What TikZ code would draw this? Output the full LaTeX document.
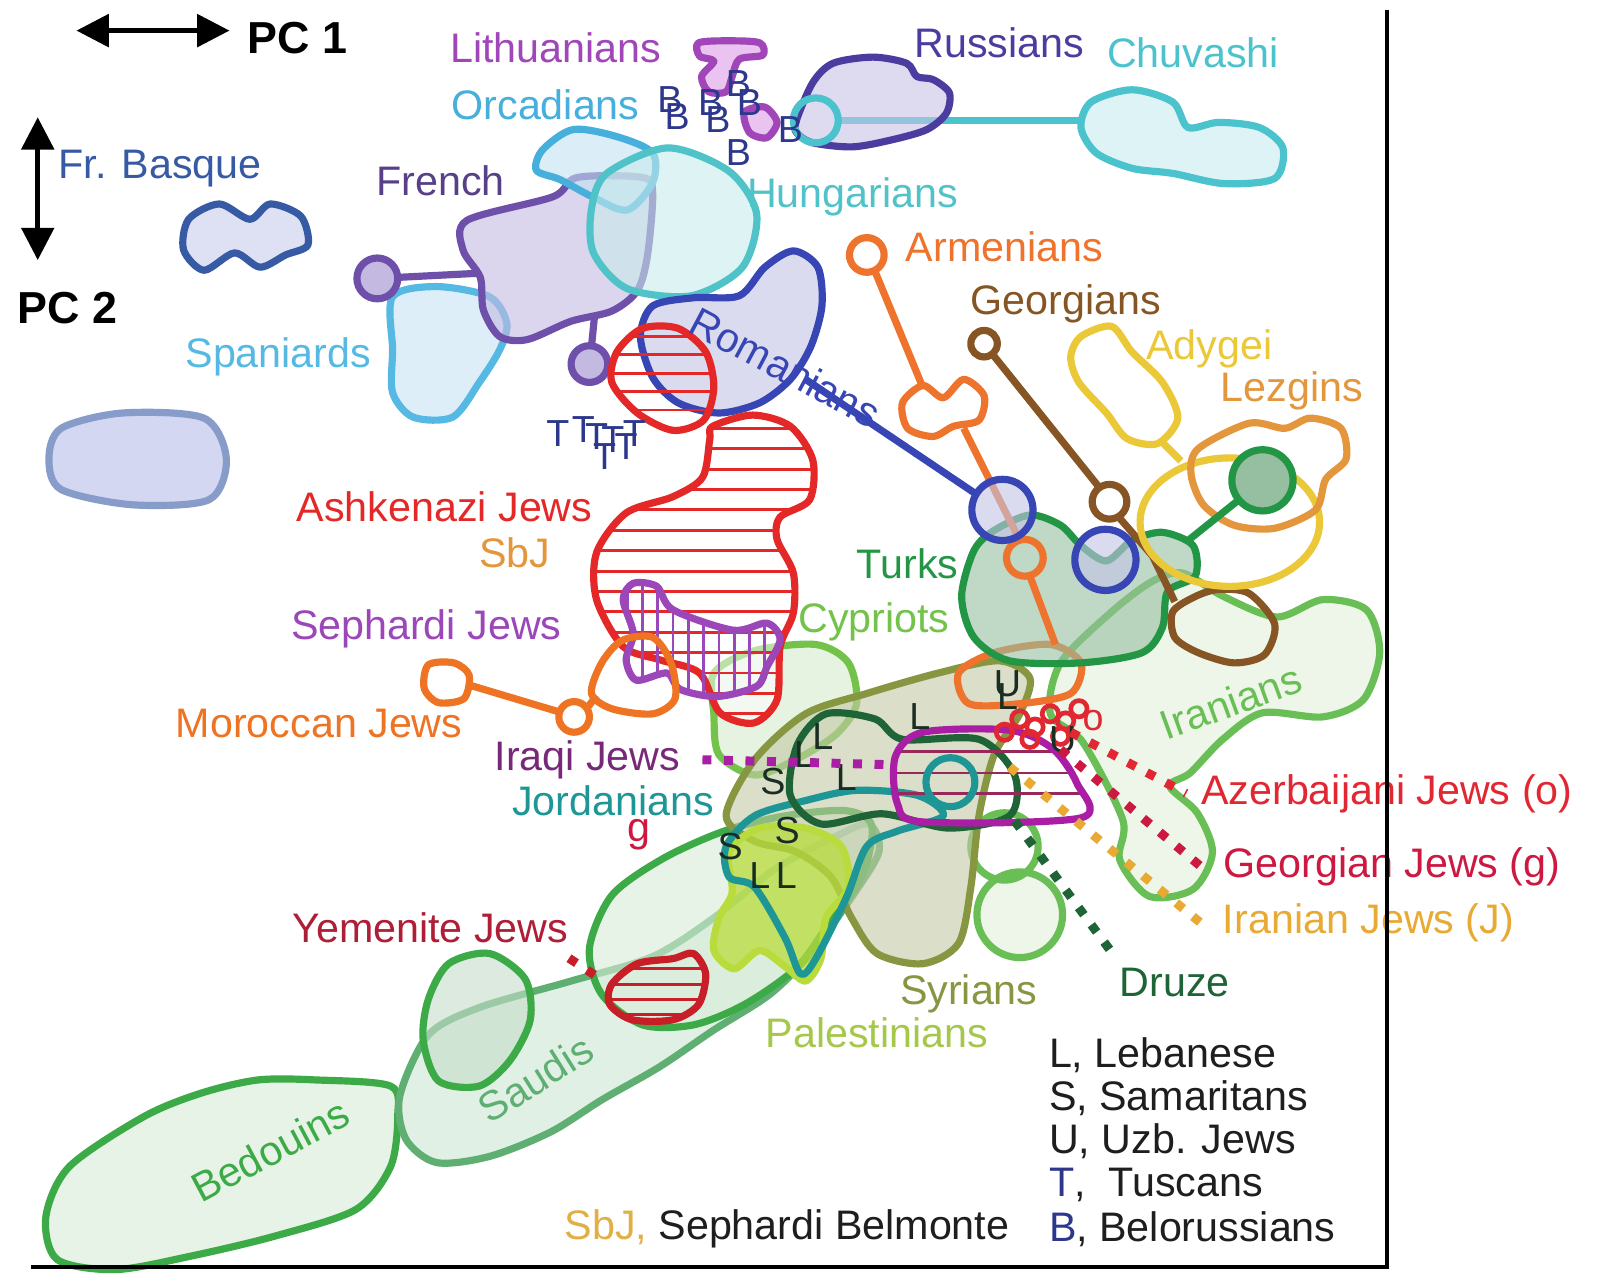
\documentclass[tikz,border=0pt]{standalone}
\usepackage{fontspec}
\setmainfont{Liberation Sans}
\usepackage{tikz}
\usetikzlibrary{positioning}
\usetikzlibrary{arrows.meta}
\usepackage{color}

\definecolor{cbasque}{RGB}{55,90,165}
\definecolor{fbasque}{RGB}{200,205,238}
\definecolor{cfrench}{RGB}{110,80,170}
\definecolor{ffrench}{RGB}{195,185,225}
\definecolor{corc}{RGB}{70,175,220}
\definecolor{forc}{RGB}{195,225,242}
\definecolor{chun}{RGB}{80,195,200}
\definecolor{fhun}{RGB}{200,235,235}
\definecolor{cspa}{RGB}{85,185,228}
\definecolor{fspa}{RGB}{200,228,245}
\definecolor{clith}{RGB}{160,70,185}
\definecolor{flith}{RGB}{235,195,240}
\definecolor{crus}{RGB}{75,60,160}
\definecolor{frus}{RGB}{200,195,230}
\definecolor{cchu}{RGB}{75,195,205}
\definecolor{fchu}{RGB}{200,235,240}
\definecolor{crom}{RGB}{55,70,180}
\definecolor{fromania}{RGB}{195,195,230}
\definecolor{carm}{RGB}{238,115,45}
\definecolor{cgeo}{RGB}{135,85,35}
\definecolor{cady}{RGB}{235,200,55}
\definecolor{clez}{RGB}{228,150,60}
\definecolor{cash}{RGB}{228,40,40}
\definecolor{cseph}{RGB}{155,70,185}
\definecolor{cmor}{RGB}{238,115,35}
\definecolor{ctur}{RGB}{35,150,70}
\definecolor{ftur}{RGB}{150,190,160}
\definecolor{ccyp}{RGB}{115,195,75}
\definecolor{fcyp}{RGB}{215,235,205}
\definecolor{ciran}{RGB}{105,190,85}
\definecolor{firan}{RGB}{225,240,218}
\definecolor{ciraq}{RGB}{170,30,165}
\definecolor{tiraq}{RGB}{120,40,120}
\definecolor{hiraq}{RGB}{150,40,90}
\definecolor{cjor}{RGB}{30,150,150}
\definecolor{cdru}{RGB}{30,100,55}
\definecolor{csyr}{RGB}{135,150,65}
\definecolor{fsyr}{RGB}{195,200,165}
\definecolor{cpal}{RGB}{185,220,60}
\definecolor{tpal}{RGB}{165,200,75}
\definecolor{cbed}{RGB}{60,170,70}
\definecolor{fbed}{RGB}{215,235,215}
\definecolor{csau}{RGB}{95,175,115}
\definecolor{fsau}{RGB}{205,230,210}
\definecolor{cyem}{RGB}{200,30,40}
\definecolor{tyem}{RGB}{175,30,55}
\definecolor{cazj}{RGB}{225,40,50}
\definecolor{cgj}{RGB}{205,25,65}
\definecolor{cij}{RGB}{232,170,50}
\definecolor{csbj}{RGB}{225,175,70}
\definecolor{cletter}{RGB}{25,45,35}
\definecolor{ctusc}{RGB}{45,55,140}
\definecolor{clegend}{RGB}{30,30,30}

% outlines that are also used for hatching
\newcommand{\ashkpath}{plot[smooth cycle] coordinates {(699,418) (738,407) (775,418) (797,451) (794,490) (765,507) (762,529) (778,562) (778,601) (765,634) (762,686) (739,709) (706,699) (686,660) (647,647) (611,634) (585,588) (585,542) (614,503) (660,487) (689,468) (696,431)}}
\newcommand{\ashkoval}{plot[smooth cycle] coordinates {(605,345) (630,322) (665,322) (692,345) (700,380) (690,412) (660,422) (625,405) (600,375)}}
\newcommand{\sephpath}{plot[smooth cycle] coordinates {(611,588) (621,572) (644,575) (660,598) (719,618) (752,611) (765,627) (752,654) (742,673) (703,683) (667,676) (654,660) (624,667) (614,647) (621,621)}}
\newcommand{\iraqpath}{plot[smooth cycle] coordinates {(905,718) (990,716) (1032,734) (1056,768) (1060,802) (905,806) (880,788) (878,742)}}
\newcommand{\yempath}{plot[smooth cycle] coordinates {(600,965) (625,945) (660,940) (680,935) (692,955) (685,985) (660,1000) (620,1000) (598,985)}}

\begin{document}
\begin{tikzpicture}[x=0.01cm, y=-0.01cm,
poplabel/.style={font=\fontsize{11.5}{13}\selectfont, inner sep=0pt},
axislabel/.style={font=\fontsize{12.5}{14}\selectfont\bfseries, inner sep=0pt},
codeletter/.style={font=\fontsize{10.5}{12}\selectfont, inner sep=0pt},
popline/.style={line width=2pt, line join=round},
popfill/.style={fill opacity=0.6},
hatchline/.style={line width=0.8pt},
dotline/.style={line width=2.5pt, dash pattern=on 2.5pt off 3.5pt},
axisarrow/.style={line width=1.3pt, {Triangle[length=9pt,width=9pt]}-{Triangle[length=9pt,width=9pt]}},
]
\fill[white] (0,0) rectangle (1569,1262);
\useasboundingbox (0,0) rectangle (1569,1262);

%Lower band
\filldraw[popline, popfill, draw=cbed, fill=fbed] plot[smooth cycle] coordinates {(45,1193) (68,1144) (141,1095) (197,1072) (253,1059) (310,1059) (383,1065) (390,1095) (383,1144) (349,1186) (270,1212) (186,1232) (113,1245) (56,1235)};
\filldraw[popline, popfill, draw=csau, fill=fsau] plot[smooth cycle] coordinates {(392,1075) (420,1015) (470,988) (560,962) (640,938) (700,900) (760,852) (820,820) (852,808) (862,835) (835,880) (795,935) (755,975) (700,1010) (647,1046) (591,1078) (540,1110) (480,1134) (428,1140) (398,1117)};
\filldraw[popline, popfill, draw=cbed, fill=fsau!80!black!20!fsau] plot[smooth cycle] coordinates {(440,945) (480,935) (515,960) (520,1000) (500,1040) (470,1065) (430,1060) (415,1020) (420,980)};
\filldraw[popline, popfill, draw=cbed, fill=fbed] plot[smooth cycle] coordinates {(578,930) (600,878) (650,842) (710,815) (770,800) (830,795) (855,810) (845,860) (810,910) (780,950) (730,985) (680,1005) (630,1005) (590,975)};

%Middle east
\filldraw[popline, popfill, draw=ciran, fill=firan] plot[smooth cycle] coordinates {(1160,562) (1200,585) (1252,605) (1297,588) (1340,598) (1353,640) (1337,686) (1297,703) (1238,699) (1199,725) (1167,758) (1147,771) (1174,797) (1189,836) (1170,872) (1127,879) (1098,843) (1101,804) (1062,728) (1030,700) (1040,650) (1090,600) (1130,570)};
\filldraw[popline, popfill, draw=ciran, fill=firan] (1000,897) circle (42);
\draw[popline, ciran] (985,830) circle (33);
\filldraw[popline, popfill, draw=ccyp, fill=fcyp] plot[smooth cycle] coordinates {(700,660) (740,638) (800,632) (832,650) (840,690) (820,720) (780,745) (740,760) (705,740) (700,700)};
\filldraw[popline, popfill, draw=csyr, fill=fsyr] plot[smooth cycle] coordinates {(712,800) (740,745) (790,700) (850,680) (920,660) (980,648) (1010,665) (1000,700) (975,740) (960,800) (952,870) (940,925) (905,945) (860,935) (835,900) (815,860) (780,835) (740,825)};
\draw[popline, carm] plot[smooth cycle] coordinates {(940,660) (975,640) (1030,632) (1060,650) (1050,680) (1000,690) (950,690)};
\filldraw[popline, popfill, draw=ctur, fill=ftur] plot[smooth cycle] coordinates {(943,585) (955,540) (975,520) (1010,505) (1040,515) (1060,535) (1085,550) (1110,530) (1140,522) (1170,535) (1172,565) (1145,580) (1140,615) (1120,640) (1060,650) (990,648) (955,625)};
\filldraw[popline, draw=cpal, fill=cpal, fill opacity=0.75] plot[smooth cycle] coordinates {(715,835) (745,812) (790,812) (825,830) (832,870) (810,900) (805,940) (790,962) (770,948) (745,932) (720,950) (700,932) (705,900) (718,875)};
\draw[popline, cjor] plot[smooth cycle] coordinates {(712,830) (740,800) (790,785) (840,775) (900,780) (925,800) (880,815) (850,830) (830,880) (800,940) (785,955) (770,920) (740,870) (715,860)};
\draw[popline, cdru] plot[smooth cycle] coordinates {(775,780) (782,730) (810,700) (858,705) (885,725) (960,725) (995,760) (990,800) (930,812) (865,798) (805,808)};
\begin{scope}
\clip \iraqpath;
\foreach \y in {737,758,778} \draw[hatchline, hiraq] (870,\y) -- (1065,\y);
\end{scope}
\draw[popline, ciraq] \iraqpath;
\draw[popline, cjor] (932,767) circle (24);

%Caucasus
\draw[popline, carm] (850,250) circle (17);
\draw[popline, carm] plot[smooth cycle] coordinates {(885,395) (905,378) (925,390) (945,372) (965,388) (960,412) (935,418) (915,428) (890,420)};
\draw[popline, carm] (858,266) -- (905,380);
\draw[popline, carm] (945,420) -- (1000,530);
\draw[popline, carm] (1005,547) circle (18);
\draw[popline, carm] (1010,565) -- (1035,632);
\draw[popline, cgeo] (965,337) circle (13);
\draw[popline, cgeo] (973,347) -- (1078,478);
\draw[popline, cgeo] (1088,492) circle (17);
\draw[popline, cgeo] (1097,507) -- (1130,545) -- (1152,590);
\draw[popline, cgeo] plot[smooth cycle] coordinates {(1150,600) (1172,585) (1195,578) (1225,582) (1250,612) (1240,642) (1210,650) (1175,640) (1152,625)};
\draw[popline, cady] plot[smooth cycle] coordinates {(1060,330) (1090,320) (1110,345) (1140,375) (1155,410) (1135,435) (1105,430) (1085,405) (1058,375) (1050,350)};
\draw[popline, cady] (1140,434) -- (1158,452);
\draw[popline, cady] (1206,512) ellipse (88 and 63);
\draw[popline, clez] plot[smooth cycle] coordinates {(1175,440) (1225,415) (1260,420) (1285,410) (1315,420) (1320,450) (1300,470) (1290,500) (1250,518) (1210,515) (1180,495) (1168,465)};
\draw[popline, ctur] (1215,490) -- (1165,530);
\filldraw[popline, draw=ctur, fill=ftur] (1238,471) circle (30);
\draw[popline, crom] (790,372) -- (958,485);
\filldraw[popline, popfill, draw=crom, fill=fromania] (983,500) circle (30);
\filldraw[popline, popfill, draw=crom, fill=fromania] (1084,549) circle (30);

%Europe
\filldraw[popline, popfill, draw=cbasque, fill=fbasque] plot[smooth cycle] coordinates {(185,215) (215,200) (245,215) (265,200) (295,212) (302,240) (280,250) (255,262) (230,248) (200,265) (180,245)};
\filldraw[line width=2pt, draw=cbasque!60, fill=fbasque, fill opacity=0.8] plot[smooth cycle] coordinates {(60,420) (120,405) (200,410) (222,450) (205,490) (130,495) (60,480) (48,450)};
\filldraw[popline, popfill, draw=cspa, fill=fspa] plot[smooth cycle] coordinates {(385,291) (428,281) (480,291) (497,317) (490,343) (470,375) (444,409) (405,409) (385,385) (385,343)};
\draw[popline, cfrench] (390,272) -- (468,268);
\filldraw[popline, draw=cfrench, fill=ffrench] (370,273) circle (20);
\draw[popline, cfrench] (583,310) -- (580,340);
\filldraw[popline, draw=cfrench, fill=ffrench] (578,357) circle (18);
\filldraw[popline, popfill, draw=cfrench, fill=ffrench] plot[smooth cycle] coordinates {(458,216) (542,193) (566,174) (630,174) (640,189) (635,250) (625,285) (600,305) (560,315) (517,333) (490,330) (474,304) (471,272) (454,245)};
\filldraw[popline, popfill, draw=corc, fill=forc] plot[smooth cycle] coordinates {(532,147) (562,127) (605,134) (640,150) (640,179) (615,206) (581,193) (549,176) (526,167)};
\filldraw[popline, popfill, draw=chun, fill=fhun] plot[smooth cycle] coordinates {(595,170) (655,145) (715,168) (742,210) (728,262) (678,290) (615,283) (582,248) (580,205)};
\filldraw[popline, popfill, draw=crom, fill=fromania] plot[smooth cycle] coordinates {(628,330) (640,300) (680,292) (725,290) (750,262) (778,246) (802,262) (806,300) (795,340) (775,372) (745,395) (705,405) (665,395) (640,370)};
\draw[popline, cchu] (820,118) -- (1062,118);
\filldraw[popline, popfill, draw=cchu, fill=fchu] plot[smooth cycle] coordinates {(1070,100) (1110,88) (1150,100) (1165,125) (1195,120) (1235,125) (1258,145) (1250,175) (1200,180) (1150,170) (1110,165) (1075,150) (1060,125)};
\filldraw[popline, popfill, draw=crus, fill=frus] plot[smooth cycle] coordinates {(781,118) (797,81) (817,62) (856,56) (889,62) (899,75) (915,78) (931,91) (928,111) (909,127) (875,137) (836,144) (797,140) (781,130)};
\draw[popline, cchu] (800,118) circle (22);
\filldraw[popline, draw=clith, fill=flith] plot[smooth cycle] coordinates {(685,42) (715,40) (745,42) (748,54) (725,58) (718,75) (712,90) (695,90) (688,75) (700,60) (686,55)};
\filldraw[popline, draw=clith, fill=flith] plot[smooth cycle] coordinates {(730,110) (750,105) (762,120) (752,135) (735,130)};

%Jewish groups
\fill[white, fill opacity=0.5] \ashkpath;
\begin{scope}
\clip \ashkpath;
\foreach \y in {420,440,...,720} \draw[hatchline, cash] (570,\y) -- (810,\y);
\end{scope}
\begin{scope}
\clip \ashkoval;
\foreach \y in {330,348,...,420} \draw[hatchline, cash] (595,\y) -- (705,\y);
\end{scope}
\draw[popline, cash] \ashkpath;
\draw[popline, cash] \ashkoval;
\begin{scope}
\clip \sephpath;
\foreach \x in {615,630,...,765} \draw[hatchline, cseph] (\x,565) -- (\x,690);
\end{scope}
\draw[popline, cseph] \sephpath;
\draw[popline, cmor] plot[smooth cycle] coordinates {(420,652) (445,650) (460,662) (455,685) (430,689) (416,675)};
\draw[popline, cmor] (461,672) -- (548,698);
\draw[popline, cmor] (563,703) circle (15);
\draw[popline, cmor] (576,694) -- (585,682);
\draw[popline, cmor] plot[smooth cycle] coordinates {(590,650) (610,628) (640,625) (658,650) (662,685) (640,700) (600,695) (580,680)};
\begin{scope}
\clip \yempath;
\foreach \y in {950,965,...,995} \draw[hatchline, cyem] (590,\y) -- (700,\y);
\end{scope}
\draw[popline, cyem] \yempath;
\foreach \cx/\cy in {985/718, 1000/705, 1015/713, 1030/700, 1045/707, 1058/695, 1010/725, 1040/722} \draw[line width=1.3pt, cazj] (\cx,\cy) circle (8);

%Letters
\node[codeletter, ctusc] (b1) at (657,98) {B};
\node[codeletter, ctusc] (b2) at (664,114) {B};
\node[codeletter, ctusc] (b3) at (697,101) {B};
\node[codeletter, ctusc] (b4) at (704,117) {B};
\node[codeletter, ctusc] (b5) at (724,82) {B};
\node[codeletter, ctusc] (b6) at (735,101) {B};
\node[codeletter, ctusc] (b7) at (775,127) {B};
\node[codeletter, ctusc] (b8) at (724,150) {B};
\node[codeletter, ctusc] (t1) at (547,425) {T};
\node[codeletter, ctusc] (t2) at (572,421) {T};
\node[codeletter, ctusc] (t3) at (585,428) {T};
\node[codeletter, ctusc] (t4) at (601,431) {T};
\node[codeletter, ctusc] (t5) at (593,448) {T};
\node[codeletter, ctusc] (t6) at (614,438) {T};
\node[codeletter, ctusc] (t7) at (622,425) {T};
\node[codeletter, cletter] (l1) at (807,722) {L};
\node[codeletter, cletter] (l2) at (789,740) {L};
\node[codeletter, cletter] (l3) at (830,762) {L};
\node[codeletter, cletter] (l4) at (902,703) {L};
\node[codeletter, cletter] (l5) at (745,859) {L};
\node[codeletter, cletter] (l6) at (771,859) {L};
\node[codeletter, cletter] (l7) at (988,683) {L};
\node[codeletter, cletter] (s1) at (758,766) {S};
\node[codeletter, cletter] (s2) at (772,814) {S};
\node[codeletter, cletter] (s3) at (716,830) {S};
\node[codeletter, cletter] (u1) at (988,670) {U};
\node[codeletter, cletter] (u2) at (1042,725) {U};
\node[codeletter, cazj] (o1) at (1072,707) {o};

%Labels
\node[axislabel] (pc1) at (292,37) {PC 1};
\node[axislabel] (pc2) at (66,302) {PC 2};
\node[poplabel, text=cbasque] (basquelbl) at (157,165) {Fr. Basque};
\node[poplabel, text=clith] (lithlbl) at (545,47) {Lithuanians};
\node[poplabel, text=corc] (orclbl) at (535,103) {Orcadians};
\node[poplabel, text=crus] (ruslbl) at (980,42) {Russians};
\node[poplabel, text=cchu] (chulbl) at (1170,52) {Chuvashi};
\node[poplabel, text=cfrench!80!black] (frlbl) at (432,177) {French};
\node[poplabel, text=chun] (hunlbl) at (836,193) {Hungarians};
\node[poplabel, text=carm] (armlbl) at (985,242) {Armenians};
\node[poplabel, text=cspa] (spalbl) at (273,350) {Spaniards};
\node[poplabel, text=crom, rotate=-28] (romlbl) at (770,360) {Romanians};
\node[poplabel, text=cgeo] (geolbl) at (1045,298) {Georgians};
\node[poplabel, text=cady] (adylbl) at (1186,342) {Adygei};
\node[poplabel, text=clez] (lezlbl) at (1267,383) {Lezgins};
\node[poplabel, text=cash] (ashlbl) at (436,497) {Ashkenazi Jews};
\node[poplabel, text=clez] (sbjlbl) at (505,542) {SbJ};
\node[poplabel, text=ctur] (turlbl) at (890,553) {Turks};
\node[poplabel, text=cseph] (sephlbl) at (418,617) {Sephardi Jews};
\node[poplabel, text=ccyp] (cyplbl) at (857,610) {Cypriots};
\node[poplabel, text=ciran, rotate=20] (iranlbl) at (1207,688) {Iranians};
\node[poplabel, text=cmor] (morlbl) at (313,709) {Moroccan Jews};
\node[poplabel, text=tiraq] (iraqlbl) at (576,745) {Iraqi Jews};
\node[poplabel, text=cjor] (jorlbl) at (601,785) {Jordanians};
\node[poplabel, text=cgj] (glbl) at (627,819) {g};
\node[poplabel, text=cazj] (azjlbl) at (1360,778) {Azerbaijani Jews (o)};
\node[poplabel, text=cgj] (gjlbl) at (1365,850) {Georgian Jews (g)};
\node[poplabel, text=cij] (ijlbl) at (1342,905) {Iranian Jews (J)};
\node[poplabel, text=tyem] (yemlbl) at (422,910) {Yemenite Jews};
\node[poplabel, text=cdru] (drulbl) at (1152,963) {Druze};
\node[poplabel, text=csyr] (syrlbl) at (950,975) {Syrians};
\node[poplabel, text=tpal] (pallbl) at (860,1013) {Palestinians};
\node[poplabel, text=csau, rotate=32] (saulbl) at (525,1058) {Saudis};
\node[poplabel, text=cbed, rotate=28] (bedlbl) at (265,1128) {Bedouins};

%Legend
\node[poplabel, text=clegend, anchor=west] (leglb) at (1028,1035) {L, Lebanese};
\node[poplabel, text=clegend, anchor=west] (legsm) at (1028,1077) {S, Samaritans};
\node[poplabel, text=clegend, anchor=west] (leguz) at (1028,1119) {U, Uzb. Jews};
\node[poplabel, text=clegend, anchor=west] (legtu) at (1028,1162) {{\color{ctusc}T},\ \ Tuscans};
\node[poplabel, text=clegend, anchor=west] (legbe) at (1028,1205) {{\color{ctusc}B}, Belorussians};
\node[poplabel, text=clegend, anchor=west] (legsb) at (553,1205) {{\color{csbj}SbJ,} Sephardi Belmonte};

%Dotted lines
\coordinate (iraqend) at (878,750);
\coordinate (azjend) at (1050,718);
\coordinate (gjend) at (1040,735);
\coordinate (ijend) at (990,752);
\coordinate (druend) at (995,805);
\coordinate (yemend) at (592,962);
\draw[dotline, ciraq] ([xshift=6pt]iraqlbl.east) -- (iraqend);
\draw[dotline, cazj] (azjend) -- ([xshift=-4pt]azjlbl.west);
\draw[dotline, cgj] (gjend) -- ([xshift=-6pt]gjlbl.west);
\draw[dotline, cij] (ijend) -- ([xshift=-6pt]ijlbl.west);
\draw[dotline, cdru] (druend) -- ([xshift=-2pt, yshift=4pt]drulbl.north west);
\draw[dotline, cyem] ([yshift=-4pt]yemlbl.south east) -- (yemend);

%Axes
\coordinate (axtop) at (1360,10);
\coordinate (axcorner) at (1360,1242);
\coordinate (axleft) at (30,1242);
\draw[line width=1.1pt] (axtop) -- (axcorner) -- (axleft);
\coordinate (pcoa) at (75,30);
\coordinate (pcob) at (225,30);
\coordinate (pcta) at (37,115);
\coordinate (pctb) at (37,255);
\draw[axisarrow] (pcoa) -- (pcob);
\draw[axisarrow] (pcta) -- (pctb);
\end{tikzpicture}
\end{document}
